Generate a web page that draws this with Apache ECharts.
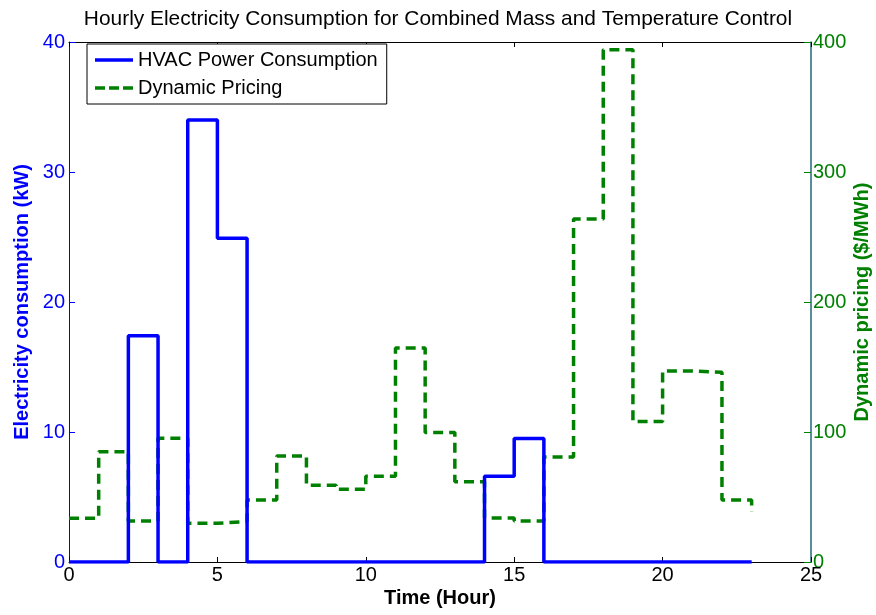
<!DOCTYPE html>
<html>
<head>
<meta charset="utf-8">
<script src="https://cdn.jsdelivr.net/npm/echarts@6/dist/echarts.min.js"></script>
<style>html,body{margin:0;padding:0;background:#fff}#c{width:876px;height:615px}</style>
</head>
<body>
<div id="c"></div>
<script>
var hours = [0,1,2,3,4,5,6,7,8,9,10,11,12,13,14,15,16,17,18,19,20,21,22,23];
var hvac = [0,0,17.4,0,34,24.9,0,0,0,0,0,0,0,0,6.6,9.5,0,0,0,0,0,0,0,0];
var pricing = [33.7,84.9,31.5,95.1,29.8,31.2,47.7,81.5,59,56,66,164.6,99.6,61.8,33.8,31.5,80.8,263.8,394,108,147,146,47.7,38.7];
var xTicks = [0,5,10,15,20,25];

var F = 'Liberation Sans, Arial, Helvetica, sans-serif';
var chart = echarts.init(document.getElementById('c'));
chart.setOption({
  animation: false,
  backgroundColor: '#fff',
  title: {
    text: 'Hourly Electricity Consumption for Combined Mass and Temperature Control',
    left: 'center', top: 4,
    textStyle: {fontFamily: F, fontSize: 20.9, fontWeight: 'normal', color: '#000'}
  },
  legend: {
    left: 87, top: 44, orient: 'vertical',
    itemWidth: 38, itemHeight: 3.5, itemGap: 8,
    padding: [6, 9, 6, 8],
    borderColor: '#000', borderWidth: 1, backgroundColor: '#fff',
    textStyle: {fontFamily: F, fontSize: 20, color: '#000'},
    data: [
      {name: 'HVAC Power Consumption', icon: 'path://M0,0h38v3.5h-38z'},
      {name: 'Dynamic Pricing', icon: 'path://M0,0h10v3.5h-10zM14,0h10v3.5h-10zM28,0h10v3.5h-10z'}
    ]
  },
  grid: {left: 69, right: 65, top: 42, bottom: 53, outerBoundsMode: 'none', containLabel: false},
  xAxis: [
    {
      type: 'value', min: 0, max: 25, interval: 5, position: 'bottom',
      name: 'Time (Hour)', nameLocation: 'middle', nameGap: 26, nameMoveOverlap: false,
      nameTextStyle: {fontFamily: F, fontSize: 20, fontWeight: 'bold', color: '#000'},
      axisLine: {show: true, onZero: false, lineStyle: {color: '#000', width: 1}},
      axisTick: {show: true, inside: true, length: 5, lineStyle: {color: '#000'}},
      axisLabel: {fontFamily: F, fontSize: 20, color: '#000', margin: 3,
        formatter: function(v){ return xTicks.indexOf(v) >= 0 ? String(v) : ''; }},
      splitLine: {show: false}
    },
    {
      type: 'value', min: 0, max: 25, interval: 5, position: 'top',
      axisLine: {show: true, onZero: false, lineStyle: {color: '#000', width: 1}},
      axisTick: {show: true, inside: true, length: 5, lineStyle: {color: '#000'}},
      axisLabel: {show: false},
      splitLine: {show: false}
    }
  ],
  yAxis: [
    {
      type: 'value', min: 0, max: 40, interval: 10, position: 'left',
      name: 'Electricity consumption (kW)', nameLocation: 'middle', nameGap: 37, nameRotate: 90, nameMoveOverlap: false,
      nameTextStyle: {fontFamily: F, fontSize: 20, fontWeight: 'bold', color: '#0000ff'},
      axisLine: {show: true, onZero: false, lineStyle: {color: '#0000ff', width: 1}},
      axisTick: {show: true, inside: true, length: 6, lineStyle: {color: '#0000ff'}},
      axisLabel: {fontFamily: F, fontSize: 20, color: '#0000ff', margin: 4},
      splitLine: {show: false}
    },
    {
      type: 'value', min: 0, max: 400, interval: 100, position: 'right',
      name: 'Dynamic pricing ($/MWh)', nameLocation: 'middle', nameGap: 41, nameRotate: 90, nameMoveOverlap: false,
      nameTextStyle: {fontFamily: F, fontSize: 20, fontWeight: 'bold', color: '#008000'},
      axisLine: {show: true, onZero: false, lineStyle: {color: '#1f6878', width: 1.5}},
      axisTick: {show: true, inside: true, length: 7, lineStyle: {color: '#008000'}},
      axisLabel: {fontFamily: F, fontSize: 20, color: '#008000', margin: 2},
      splitLine: {show: false}
    }
  ],
  series: [
    {
      name: 'Dynamic Pricing', type: 'line', step: 'end', xAxisIndex: 0, yAxisIndex: 1,
      data: hours.map(function(h,i){ return [h, pricing[i]]; }),
      showSymbol: false, symbol: 'none', z: 2,
      lineStyle: {color: '#008000', width: 3.5, type: [10, 6]},
      itemStyle: {color: '#008000'}
    },
    {
      name: 'HVAC Power Consumption', type: 'line', step: 'end', xAxisIndex: 0, yAxisIndex: 0,
      data: hours.map(function(h,i){ return [h, hvac[i]]; }),
      showSymbol: false, symbol: 'none', z: 3,
      lineStyle: {color: '#0000ff', width: 3.5},
      itemStyle: {color: '#0000ff'}
    }
  ]
});
</script>
</body>
</html>
